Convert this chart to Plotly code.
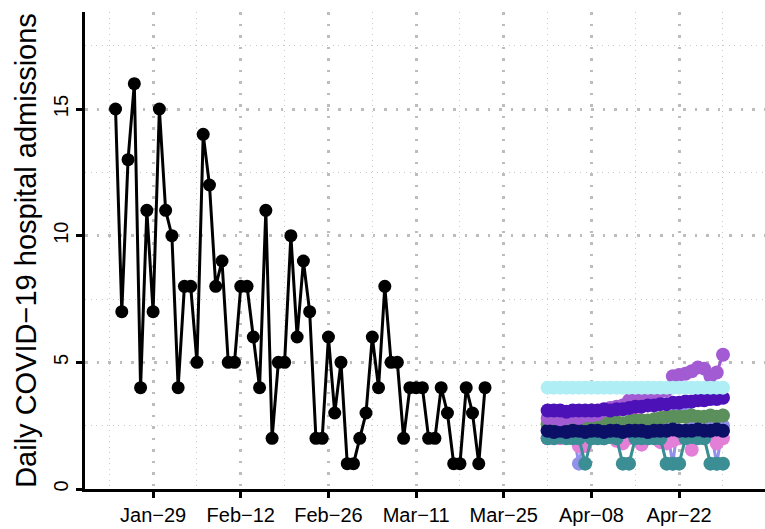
import plotly.graph_objects as go
import pandas as pd

# observed daily admissions
obs_start = "2024-01-23"
obs_vals = [15, 7, 13, 16, 4, 11, 7, 15, 11, 10, 4, 8, 8, 5, 14, 12, 8, 9, 5, 5,
            8, 8, 6, 4, 11, 2, 5, 5, 10, 6, 9, 7, 2, 2, 6, 3, 5, 1, 1, 2,
            3, 6, 4, 8, 5, 5, 2, 4, 4, 4, 2, 2, 4, 3, 1, 1, 4, 3, 1, 4]

# forecast trajectories (Apr 1 - Apr 29)
fc_start = "2024-04-01"
lightblue = [2.3, 2.4, 2.3, 2.4, 2.3, 1.0, 2.3, 2.4, 2.4, 2.3, 2.4, 2.5, 2.4, 2.6, 2.7,
             2.5, 2.5, 2.4, 2.5, 2.4, 1.0, 3.0, 3.1, 2.7, 2.6, 2.5, 2.4, 1.0, 2.5]
pink = [2.0, 2.1, 2.0, 2.1, 2.0, 1.7, 1.7, 2.0, 2.1, 2.0, 2.1, 1.9, 1.8, 2.0, 2.8,
        1.75, 2.0, 2.1, 1.85, 1.8, 1.9, 2.0, 2.1, 1.55, 2.1, 2.0, 2.1, 1.8, 2.0]
teal = [2.0, 2.0, 2.05, 2.0, 2.0, 2.0, 1.0, 2.0, 2.0, 2.0, 2.05, 2.0, 1.0, 1.0, 2.0,
        2.0, 2.0, 2.0, 2.0, 1.0, 1.0, 1.0, 2.0, 2.05, 2.0, 2.0, 1.0, 1.0, 1.0]
green = [2.55, 2.55, 2.5, 2.55, 2.6, 2.55, 2.55, 2.6, 2.55, 2.6, 2.6, 2.65, 2.6, 2.65, 2.7,
         2.7, 2.7, 2.75, 2.8, 2.85, 2.85, 2.85, 2.85, 2.9, 2.85, 2.85, 2.9, 2.85, 2.9]
navy = [2.3, 2.25, 2.3, 2.25, 2.3, 2.3, 2.25, 2.3, 2.3, 2.25, 2.3, 2.3, 2.25, 2.3, 2.3,
        2.3, 2.25, 2.3, 2.3, 2.3, 2.35, 2.3, 2.3, 2.3, 2.35, 2.3, 2.3, 2.35, 2.3]
orchid = [2.8, 2.8, 2.75, 2.8, 2.85, 2.8, 2.9, 2.9, 2.95, 3.1, 3.2, 3.25, 3.3, 3.5, 3.7,
          3.75, 3.8, 3.8, 3.85, 3.9, 4.45, 4.5, 4.55, 4.65, 4.8, 4.75, 4.45, 4.6, 5.3]
indigo = [3.1, 3.1, 3.1, 3.05, 3.1, 3.1, 3.1, 3.1, 3.1, 3.15, 3.1, 3.15, 3.15, 3.2, 3.25,
          3.25, 3.3, 3.3, 3.35, 3.35, 3.4, 3.4, 3.45, 3.45, 3.5, 3.5, 3.55, 3.55, 3.6]
cyan = [4.0, 4.0, 4.0, 4.0, 4.0, 4.0, 4.0, 4.0, 4.0, 4.0, 4.0, 4.0, 4.0, 4.0, 4.0,
        4.0, 4.0, 4.0, 4.0, 4.0, 4.0, 4.0, 4.0, 4.0, 4.0, 4.0, 4.0, 4.0, 4.0]

tick_dates = ["2024-01-29", "2024-02-12", "2024-02-26", "2024-03-11",
              "2024-03-25", "2024-04-08", "2024-04-22"]
tick_text = ["Jan\u221229", "Feb\u221212", "Feb\u221226", "Mar\u221211",
             "Mar\u221225", "Apr\u221208", "Apr\u221222"]
minor_dates = ["2024-01-22", "2024-02-05", "2024-02-19", "2024-03-04",
               "2024-03-18", "2024-04-01", "2024-04-15", "2024-04-29"]

fig = go.Figure()

def add_series(start, vals, color, size):
    fig.add_trace(go.Scatter(
        x=pd.date_range(start, periods=len(vals), freq="D"), y=vals,
        mode="lines+markers",
        line=dict(color=color, width=3),
        marker=dict(color=color, size=size),
        showlegend=False))

add_series(fc_start, lightblue, "#9191ea", 14)
add_series(fc_start, pink, "#e47fd8", 14)
add_series(fc_start, teal, "#3a8e94", 14)
add_series(fc_start, green, "#5b8f5b", 14)
add_series(fc_start, navy, "#0c0f66", 14)
add_series(fc_start, orchid, "#a25bd2", 14)
add_series(fc_start, indigo, "#4c12b8", 14)
add_series(fc_start, cyan, "#b0eef5", 14)
add_series(obs_start, obs_vals, "#000000", 13)

fig.update_layout(
    width=765, height=529,
    margin=dict(l=85, r=0, t=12, b=40),
    plot_bgcolor="white", paper_bgcolor="white",
    font=dict(family="Liberation Sans, Arial, sans-serif", color="black"),
    showlegend=False,
)
fig.update_xaxes(
    type="date", range=["2024-01-18 03:00", "2024-05-05 17:00"],
    automargin=False,
    tickmode="array", tickvals=tick_dates, ticktext=tick_text,
    tickfont=dict(size=20, color="black"),
    showline=True, linecolor="black", linewidth=2.5,
    ticks="outside", ticklen=6, tickwidth=2.5, tickcolor="black",
    showgrid=True, gridcolor="#bdbdbd", gridwidth=2.5, griddash="2.5px,9px",
    minor=dict(tickmode="array", tickvals=minor_dates, showgrid=True,
               gridcolor="#c8c8c8", gridwidth=1, griddash="1px,4.5px", ticks=""),
    zeroline=False,
)
fig.update_yaxes(
    range=[0, 18.83], automargin=False,
    tickmode="array", tickvals=[0, 5, 10, 15], ticktext=["0", "5", "10", "15"],
    tickangle=-90, tickfont=dict(size=20, color="black"),
    showline=True, linecolor="black", linewidth=2.5,
    ticks="outside", ticklen=6, tickwidth=2.5, tickcolor="black",
    showgrid=True, gridcolor="#bdbdbd", gridwidth=2.5, griddash="2.5px,9px",
    minor=dict(tickmode="array", tickvals=[2.5, 7.5, 12.5, 17.5], showgrid=True,
               gridcolor="#c8c8c8", gridwidth=1, griddash="1px,4.5px", ticks=""),
    zeroline=False,
    title=dict(text="Daily COVID\u221219 hospital admissions",
               font=dict(size=29, color="black"), standoff=6),
)

# drop the page's default body margin so the figure sits at the top-left corner
fig.write_html("out.html", config={"displayModeBar": False},
               post_script="document.body.style.margin='0px';")
